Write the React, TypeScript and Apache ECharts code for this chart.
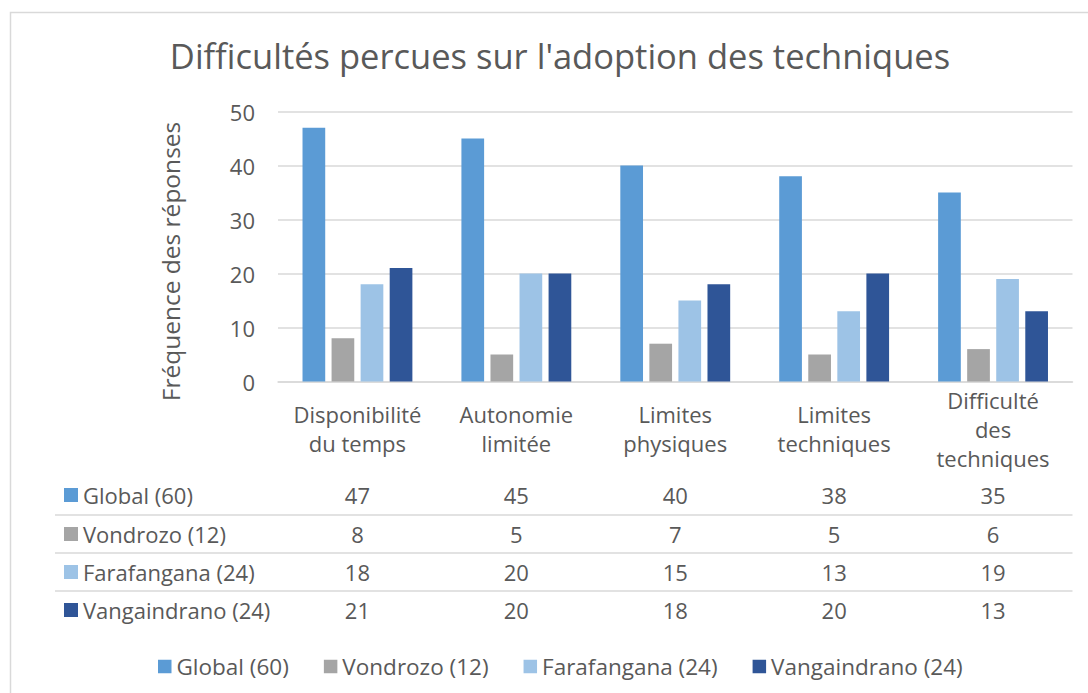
import React, { useEffect, useRef } from "react";
import * as echarts from "echarts";

const categories = [
  "Disponibilité\ndu temps",
  "Autonomie\nlimitée",
  "Limites\nphysiques",
  "Limites\ntechniques",
  "Difficulté\ndes\ntechniques",
];
const seriesNames = ["Global (60)", "Vondrozo (12)", "Farafangana (24)", "Vangaindrano (24)"];
const globalValues = [47, 45, 40, 38, 35];
const vondrozoValues = [8, 5, 7, 5, 6];
const farafanganaValues = [18, 20, 15, 13, 19];
const vangaindranoValues = [21, 20, 18, 20, 13];
const yTickMax = 50;
const yTickStep = 10;
const titleText = "Difficultés percues sur l'adoption des techniques";
const yAxisTitle = "Fréquence des réponses";

const allValues = [globalValues, vondrozoValues, farafanganaValues, vangaindranoValues];
const colors = ["#5B9BD5", "#A5A5A5", "#9DC3E6", "#2F5597"];

const FONT = "'Open Sans', sans-serif";
const TEXT = "#595959";
const GRID = "#D9D9D9";
const FS = 22;

const PLOT_LEFT = 278;
const PLOT_RIGHT = 1072.5;
const PLOT_TOP = 111.5;
const PLOT_BOTTOM = 381.5;
const ROW_CENTERS = [495, 534, 572, 610];
const ROW_LINES = [515, 553, 591];

export default function App() {
  const ref = useRef<HTMLDivElement>(null);
  useEffect(() => {
    document.body.style.margin = "0";
    const chart = echarts.init(ref.current!, null, { renderer: "svg" });

    const tableAxes = allValues.map((vals, i) => ({
      type: "category",
      data: categories,
      position: "bottom",
      offset: ROW_CENTERS[i] - PLOT_BOTTOM,
      axisLine: { show: false },
      axisTick: { show: false },
      splitLine: { show: false },
      axisLabel: {
        margin: 0,
        verticalAlign: "middle",
        color: TEXT,
        fontFamily: FONT,
        fontSize: FS,
        formatter: (_v: string, idx: number) => String(vals[idx]),
      },
    }));

    const graphics: any[] = [
      {
        type: "rect",
        shape: { x: 10.5, y: 12.5, width: 1100, height: 700 },
        style: { fill: "none", stroke: GRID, lineWidth: 1.5 },
        silent: true,
      },
    ];
    ROW_LINES.forEach((y) => {
      graphics.push({
        type: "line",
        shape: { x1: 55, y1: y, x2: PLOT_RIGHT, y2: y },
        style: { stroke: GRID, lineWidth: 1.5 },
        silent: true,
      });
    });
    seriesNames.forEach((name, i) => {
      graphics.push({
        type: "rect",
        shape: { x: 64, y: ROW_CENTERS[i] - 7, width: 14, height: 14 },
        style: { fill: colors[i] },
        silent: true,
      });
      graphics.push({
        type: "text",
        x: 83,
        y: ROW_CENTERS[i],
        style: {
          text: name,
          fill: TEXT,
          font: `${FS}px ${FONT}`,
          verticalAlign: "middle",
          align: "left",
        },
        silent: true,
      });
    });

    chart.setOption({
      animation: false,
      backgroundColor: "#ffffff",
      title: {
        text: titleText,
        left: 555,
        textAlign: "center",
        top: 33,
        textStyle: { color: TEXT, fontFamily: FONT, fontSize: 34.5, fontWeight: "normal" },
      },
      legend: {
        data: seriesNames,
        left: 153,
        top: 650,
        icon: "rect",
        itemWidth: 13.5,
        itemHeight: 13.5,
        itemGap: 35,
        textStyle: { color: TEXT, fontFamily: FONT, fontSize: 22.5 },
      },
      grid: {
        left: PLOT_LEFT,
        right: 1088 - PLOT_RIGHT,
        top: PLOT_TOP,
        bottom: 693 - PLOT_BOTTOM,
        containLabel: false,
      },
      xAxis: [
        {
          type: "category",
          data: categories,
          axisLine: { lineStyle: { color: GRID, width: 1.5 } },
          axisTick: { show: false },
          axisLabel: {
            margin: 47,
            verticalAlign: "middle",
            color: TEXT,
            fontFamily: FONT,
            fontSize: FS,
            lineHeight: 29,
            interval: 0,
          },
        },
        ...tableAxes,
      ],
      yAxis: {
        type: "value",
        min: 0,
        max: yTickMax,
        interval: yTickStep,
        name: yAxisTitle,
        nameLocation: "middle",
        nameRotate: 90,
        nameGap: 95,
        nameTextStyle: { color: TEXT, fontFamily: FONT, fontSize: 24.5, padding: [0, 30, 0, 0] },
        axisLine: { show: false },
        axisTick: { show: false },
        splitLine: { lineStyle: { color: GRID, width: 1.5 } },
        axisLabel: { color: TEXT, fontFamily: FONT, fontSize: FS, margin: 23 },
      },
      series: seriesNames.map((name, i) => ({
        type: "bar",
        name,
        data: allValues[i],
        xAxisIndex: 0,
        barWidth: 22.7,
        barGap: "28%",
        itemStyle: { color: colors[i] },
      })),
      graphic: graphics,
    });
    return () => chart.dispose();
  }, []);
  return <div ref={ref} style={{ width: 1088, height: 693 }} />;
}
